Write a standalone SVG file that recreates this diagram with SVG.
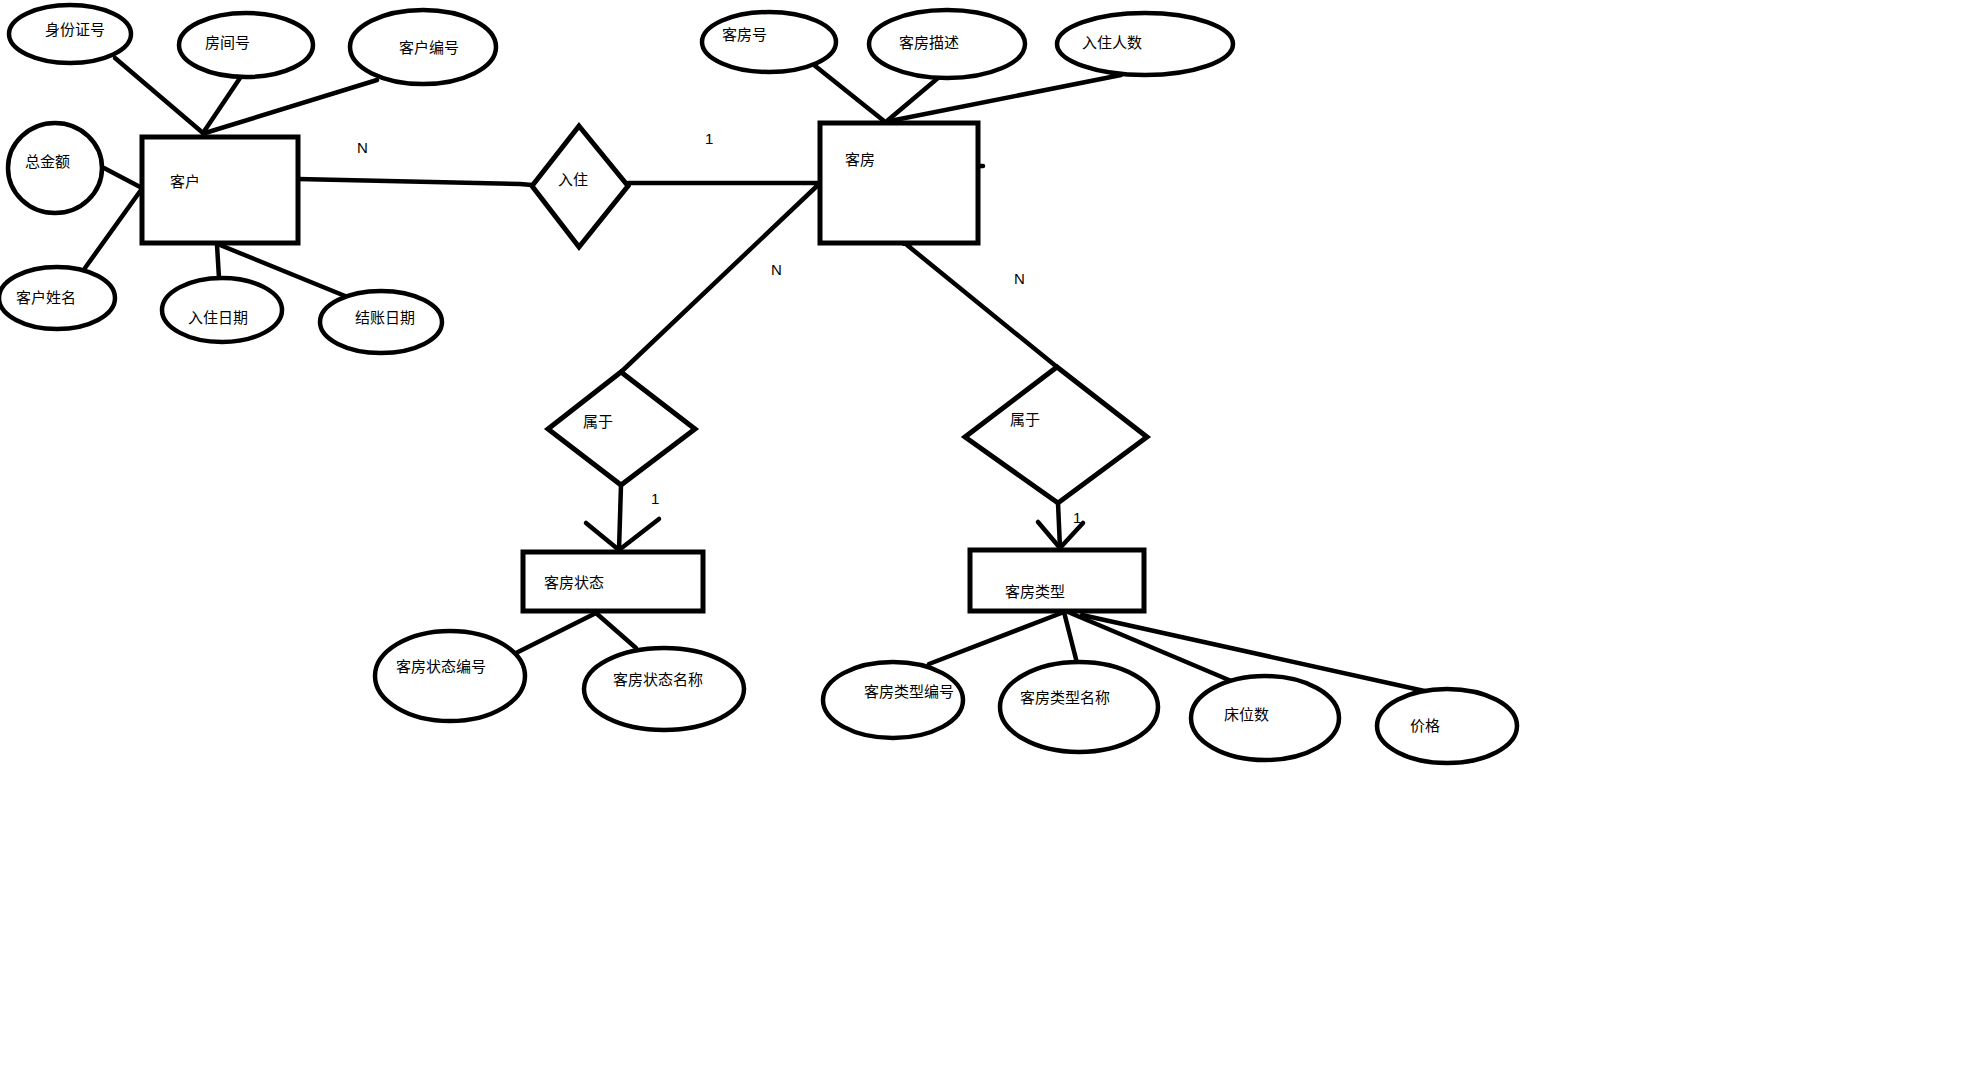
<svg xmlns="http://www.w3.org/2000/svg" width="1970" height="1086" viewBox="0 0 1970 1086">
<style>
.s{fill:none;stroke:#000;stroke-width:4.5;stroke-linecap:round;stroke-linejoin:round}
.e{fill:#fff;stroke:#000;stroke-width:4.5}
.r{fill:#fff;stroke:#000;stroke-width:5}
.t{font-family:"Noto Sans CJK SC","Liberation Sans",sans-serif;font-size:15px;fill:#000}
.c{font-family:"Liberation Sans",sans-serif;font-size:15px;fill:#000}
</style>
<rect width="1970" height="1086" fill="#fff"/>
<g id="connectors">
<line class="s" x1="115" y1="58" x2="203" y2="133"/>
<line class="s" x1="240" y1="78" x2="203" y2="133"/>
<line class="s" x1="377" y1="80" x2="205" y2="133"/>
<line class="s" x1="104" y1="168" x2="142" y2="188"/>
<line class="s" x1="85" y1="268" x2="141" y2="190"/>
<line class="s" x1="217" y1="245" x2="219" y2="278"/>
<line class="s" x1="220" y1="245" x2="350" y2="298"/>
<polyline class="s" points="298,179 520,184 532,185"/>
<line class="s" x1="628" y1="183" x2="819" y2="183"/>
<line class="s" x1="814" y1="65" x2="884" y2="121"/>
<line class="s" x1="938" y1="78" x2="887" y2="121"/>
<line class="s" x1="1121" y1="75" x2="890" y2="121"/>
<line class="s" x1="980" y1="166" x2="983" y2="166"/>
<line class="s" x1="818" y1="185" x2="621" y2="372"/>
<line class="s" x1="907" y1="245" x2="1057" y2="367"/>
<polygon points="902,246 907,239 912,246" fill="#000"/>
<line class="s" x1="621" y1="485" x2="619" y2="550"/>
<polyline class="s" points="586,523 619,550 659,519"/>
<line class="s" x1="1058" y1="503" x2="1060" y2="548"/>
<polyline class="s" points="1038,522 1060,548 1083,523"/>
<line class="s" x1="596" y1="613" x2="516" y2="653"/>
<line class="s" x1="596" y1="613" x2="636" y2="648"/>
<line class="s" x1="1064" y1="612" x2="929" y2="664"/>
<line class="s" x1="1064" y1="612" x2="1077" y2="663"/>
<line class="s" x1="1068" y1="612" x2="1236" y2="683"/>
<line class="s" x1="1082" y1="615" x2="1429" y2="692"/>
</g>
<g id="n_sfzh"><ellipse class="e" cx="70" cy="34" rx="61" ry="29"/><text class="t" x="45" y="35">身份证号</text></g>
<g id="n_fjh"><ellipse class="e" cx="246" cy="45" rx="67" ry="32"/><text class="t" x="205" y="48">房间号</text></g>
<g id="n_khbh"><ellipse class="e" cx="423" cy="47" rx="73" ry="37"/><text class="t" x="399" y="53">客户编号</text></g>
<g id="n_zje"><ellipse class="e" cx="55" cy="168" rx="47" ry="45"/><text class="t" x="25" y="167">总金额</text></g>
<g id="n_kh"><rect class="r" x="142" y="137" width="156" height="106"/><text class="t" x="170" y="187">客户</text></g>
<g id="n_khxm"><ellipse class="e" cx="57" cy="298" rx="58" ry="31"/><text class="t" x="16" y="303">客户姓名</text></g>
<g id="n_rzrq"><ellipse class="e" cx="222" cy="310" rx="60" ry="32"/><text class="t" x="188" y="323">入住日期</text></g>
<g id="n_jzrq"><ellipse class="e" cx="381" cy="322" rx="61" ry="31"/><text class="t" x="355" y="323">结账日期</text></g>
<g id="n_rz"><polygon class="r" points="579,126 628,186 579,247 532,186"/><text class="t" x="558" y="185">入住</text></g>
<g id="n_kf"><rect class="r" x="820" y="123" width="158" height="120"/><text class="t" x="845" y="165">客房</text></g>
<g id="n_kfh"><ellipse class="e" cx="769" cy="42" rx="67" ry="30"/><text class="t" x="722" y="40">客房号</text></g>
<g id="n_kfms"><ellipse class="e" cx="947" cy="44" rx="78" ry="34"/><text class="t" x="899" y="48">客房描述</text></g>
<g id="n_rzrs"><ellipse class="e" cx="1145" cy="44" rx="88" ry="31"/><text class="t" x="1082" y="48">入住人数</text></g>
<g id="n_sy1"><polygon class="r" points="621,372 695,429 621,485 548,429"/><text class="t" x="583" y="427">属于</text></g>
<g id="n_sy2"><polygon class="r" points="1057,367 1147,437 1058,503 965,437"/><text class="t" x="1010" y="425">属于</text></g>
<g id="n_kfzt"><rect class="r" x="523" y="552" width="180" height="59"/><text class="t" x="544" y="588">客房状态</text></g>
<g id="n_kflx"><rect class="r" x="970" y="550" width="174" height="61"/><text class="t" x="1005" y="597">客房类型</text></g>
<g id="n_kfztbh"><ellipse class="e" cx="450" cy="676" rx="75" ry="45"/><text class="t" x="396" y="672">客房状态编号</text></g>
<g id="n_kfztmc"><ellipse class="e" cx="664" cy="689" rx="80" ry="41"/><text class="t" x="613" y="685">客房状态名称</text></g>
<g id="n_kflxbh"><ellipse class="e" cx="893" cy="700" rx="70" ry="38"/><text class="t" x="864" y="697">客房类型编号</text></g>
<g id="n_kflxmc"><ellipse class="e" cx="1079" cy="707" rx="79" ry="45"/><text class="t" x="1020" y="703">客房类型名称</text></g>
<g id="n_cws"><ellipse class="e" cx="1265" cy="718" rx="74" ry="42"/><text class="t" x="1224" y="720">床位数</text></g>
<g id="n_jg"><ellipse class="e" cx="1447" cy="726" rx="70" ry="37"/><text class="t" x="1410" y="731">价格</text></g>
<g id="labels">
<text class="c" x="357" y="153">N</text>
<text class="c" x="705" y="144">1</text>
<text class="c" x="771" y="275">N</text>
<text class="c" x="1014" y="284">N</text>
<text class="c" x="651" y="504">1</text>
<text class="c" x="1073" y="523">1</text>
</g>
</svg>
